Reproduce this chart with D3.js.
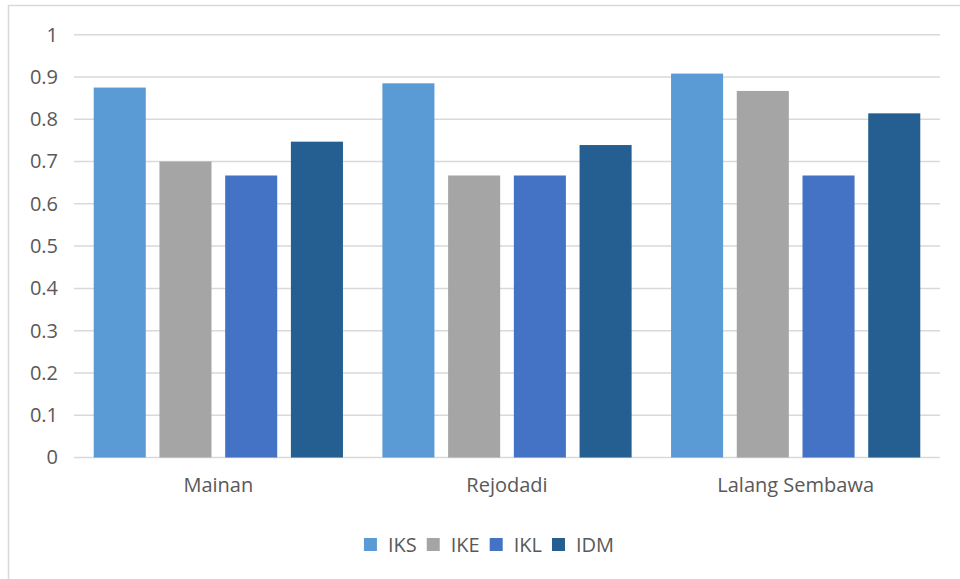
<!DOCTYPE html>
<html>
<head>
<meta charset="utf-8">
<script src="https://cdn.jsdelivr.net/npm/d3@7.9.0/dist/d3.min.js"></script>
<style>
  body { margin: 0; background: #fff; }
  svg { display: block; font-family: "Open Sans", sans-serif; }
</style>
</head>
<body>
<svg id="chart" width="960" height="579"></svg>
<script>
// Data
const categories = ["Mainan", "Rejodadi", "Lalang Sembawa"];
const seriesNames = ["IKS", "IKE", "IKL", "IDM"];
const IKS = [0.875, 0.885, 0.908];
const IKE = [0.700, 0.667, 0.867];
const IKL = [0.667, 0.667, 0.667];
const IDM = [0.747, 0.739, 0.814];
const yTicks = [0, 0.1, 0.2, 0.3, 0.4, 0.5, 0.6, 0.7, 0.8, 0.9, 1];
const colors = ["#5B9BD5", "#A5A5A5", "#4472C4", "#255E91"];

const seriesValues = [IKS, IKE, IKL, IDM];

const svg = d3.select("#chart");
const margin = { top: 34.7, right: 20, bottom: 121.5, left: 74 };
const width = 960, height = 579;
const textColor = "#595959";
const gridColor = "#D9D9D9";
const fontSize = "20px";

// Chart border (only top/left visible in the crop)
svg.append("rect")
  .attr("x", 8.5).attr("y", 5.5)
  .attr("width", 980).attr("height", 600)
  .attr("fill", "none")
  .attr("stroke", gridColor)
  .attr("stroke-width", 1.5);

// Scales
const x0 = d3.scaleBand()
  .domain(categories)
  .range([margin.left, width - margin.right])
  .paddingInner(0).paddingOuter(0);

const x1 = d3.scaleBand()
  .domain(seriesNames)
  .range([0, x0.bandwidth()])
  .paddingInner(0.208)
  .paddingOuter(0.3);

const y = d3.scaleLinear()
  .domain([0, 1])
  .range([height - margin.bottom, margin.top]);

// Gridlines
svg.append("g")
  .selectAll("line")
  .data(yTicks)
  .join("line")
  .attr("x1", margin.left)
  .attr("x2", width - margin.right)
  .attr("y1", d => y(d))
  .attr("y2", d => y(d))
  .attr("stroke", gridColor)
  .attr("stroke-width", 1.5);

// Y axis labels
const yAxis = d3.axisLeft(y).tickValues(yTicks).tickSize(0).tickPadding(16)
  .tickFormat(d => d3.format("")(+d.toFixed(1)));
svg.append("g")
  .attr("transform", `translate(${margin.left},0)`)
  .call(yAxis)
  .call(g => g.select(".domain").remove())
  .call(g => g.selectAll("text")
    .attr("fill", textColor)
    .style("font-size", fontSize)
    .style("font-family", "'Open Sans', sans-serif"));

// Bars
const groups = svg.append("g")
  .selectAll("g")
  .data(categories)
  .join("g")
  .attr("transform", d => `translate(${x0(d)},0)`);

groups.selectAll("rect")
  .data((c, i) => seriesNames.map((s, j) => ({ s, v: seriesValues[j][i], color: colors[j] })))
  .join("rect")
  .attr("x", d => x1(d.s))
  .attr("width", x1.bandwidth())
  .attr("y", d => y(d.v))
  .attr("height", d => y(0) - y(d.v))
  .attr("fill", d => d.color);

// Category labels
const xAxis = d3.axisBottom(x0).tickSize(0).tickPadding(20);
svg.append("g")
  .attr("transform", `translate(0,${y(0)})`)
  .call(xAxis)
  .call(g => g.select(".domain").remove())
  .call(g => g.selectAll("text")
    .attr("fill", textColor)
    .style("font-size", fontSize)
    .style("font-family", "'Open Sans', sans-serif"));

// Legend
const legend = svg.append("g");
const items = legend.selectAll("g")
  .data(seriesNames)
  .join("g");

items.append("rect")
  .attr("width", 13).attr("height", 13)
  .attr("y", -14)
  .attr("fill", (d, i) => colors[i]);

items.append("text")
  .attr("x", 24)
  .attr("y", 0)
  .attr("fill", textColor)
  .style("font-size", fontSize)
  .text(d => d);

let cx = 0;
items.each(function() {
  const g = d3.select(this);
  g.attr("transform", `translate(${cx},0)`);
  cx += 24 + g.select("text").node().getComputedTextLength() + 10;
});
const legendW = cx - 10;
legend.attr("transform", `translate(${489 - legendW / 2},552)`);
</script>
</body>
</html>
